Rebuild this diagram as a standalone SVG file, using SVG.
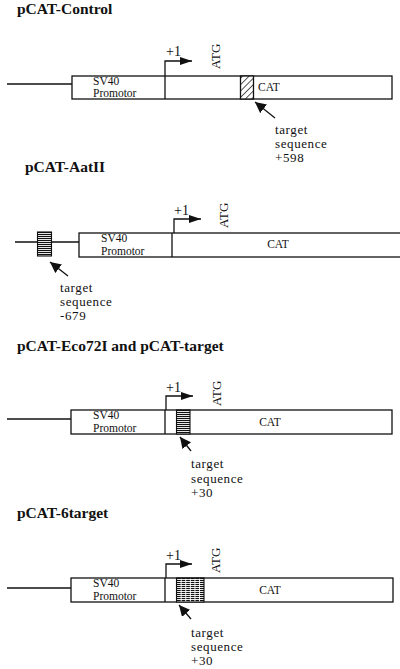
<svg xmlns="http://www.w3.org/2000/svg" width="400" height="669" viewBox="0 0 400 669">
<style>
.title{font-family:"Liberation Serif",serif;font-weight:bold;font-size:15.5px;fill:#111}
.lbl{font-family:"Liberation Serif",serif;font-size:11.5px;fill:#111}
.tgt{font-family:"Liberation Serif",serif;font-size:13px;letter-spacing:0.6px;fill:#111}
.p1{font-family:"Liberation Serif",serif;font-size:14px;fill:#111}
.atg{font-family:"Liberation Serif",serif;font-size:13px;fill:#111}
.ln{stroke:#111;stroke-width:1.3;fill:none}
.box{stroke:#111;stroke-width:1.3;fill:#fff}
</style>
<defs>
<pattern id="diag" patternUnits="userSpaceOnUse" width="4.5" height="4.5" patternTransform="rotate(45)">
<rect width="4.5" height="4.5" fill="#fff"/>
<line x1="0" y1="0" x2="0" y2="4.5" stroke="#111" stroke-width="1.4"/>
</pattern>
<pattern id="hstripe" patternUnits="userSpaceOnUse" width="4" height="2">
<rect width="4" height="2" fill="#fff"/>
<rect y="0" width="4" height="1.1" fill="#111"/>
</pattern>
<marker id="ah" viewBox="0 0 10 10" refX="10" refY="5" markerWidth="11" markerHeight="11" markerUnits="userSpaceOnUse" orient="auto">
<path d="M0,0 L10,5 L0,10 z" fill="#111"/>
</marker>
<marker id="tss" viewBox="0 0 12 8" refX="12" refY="4" markerWidth="12" markerHeight="8" markerUnits="userSpaceOnUse" orient="auto">
<path d="M0,0 L12,4 L0,8 z" fill="#111"/>
</marker>
</defs>

<g id="pCAT-Control">
<text class="title" x="17" y="14">pCAT-Control</text>
<line class="ln" x1="7" y1="84" x2="72" y2="84"/>
<rect class="box" x="72" y="76" width="320" height="23"/>
<line class="ln" x1="165" y1="76" x2="165" y2="99"/>
<rect x="240.5" y="76" width="13" height="23" fill="url(#diag)" stroke="#111" stroke-width="1.3"/>
<text class="lbl" x="93" y="84.5">SV40</text>
<text class="lbl" x="93" y="97">Promotor</text>
<text class="lbl" x="258" y="91">CAT</text>
<text class="p1" x="166" y="56">+1</text>
<text class="atg" transform="translate(220,69) rotate(-90)">ATG</text>
<text class="tgt" x="275" y="134">target</text>
<text class="tgt" x="275" y="148">sequence</text>
<text class="tgt" x="275" y="162">+598</text>
</g>

<g id="pCAT-AatII">
<text class="title" x="25" y="172">pCAT-AatII</text>
<line class="ln" x1="15" y1="242" x2="79" y2="242"/>
<rect x="37.5" y="232" width="14" height="24" fill="url(#hstripe)" stroke="#111" stroke-width="1.1"/>
<rect class="box" x="79" y="233" width="322" height="24"/>
<line class="ln" x1="172" y1="233" x2="172" y2="257"/>
<text class="lbl" x="101" y="241.5">SV40</text>
<text class="lbl" x="101" y="254.5">Promotor</text>
<text class="lbl" x="278" y="248" text-anchor="middle">CAT</text>
<text class="p1" x="174" y="215">+1</text>
<text class="atg" transform="translate(228,228) rotate(-90)">ATG</text>
<text class="tgt" x="60" y="292">target</text>
<text class="tgt" x="60" y="306">sequence</text>
<text class="tgt" x="60" y="320">-679</text>
</g>

<g id="pCAT-Eco72I">
<text class="title" x="17" y="351">pCAT-Eco72I and pCAT-target</text>
<line class="ln" x1="7" y1="419" x2="71" y2="419"/>
<rect class="box" x="71" y="410" width="321" height="24"/>
<line class="ln" x1="165" y1="410" x2="165" y2="434"/>
<rect x="176.5" y="410" width="13.5" height="24" fill="url(#hstripe)" stroke="#111" stroke-width="1.1"/>
<text class="lbl" x="93" y="418.5">SV40</text>
<text class="lbl" x="93" y="431.5">Promotor</text>
<text class="lbl" x="270" y="426" text-anchor="middle">CAT</text>
<text class="p1" x="166" y="392">+1</text>
<text class="atg" transform="translate(221,406) rotate(-90)">ATG</text>
<text class="tgt" x="191" y="468">target</text>
<text class="tgt" x="191" y="483">sequence</text>
<text class="tgt" x="191" y="497">+30</text>
</g>

<g id="pCAT-6target">
<text class="title" x="17" y="518">pCAT-6target</text>
<line class="ln" x1="7" y1="588" x2="71" y2="588"/>
<rect class="box" x="71" y="578" width="322" height="24"/>
<line class="ln" x1="165" y1="578" x2="165" y2="602"/>
<rect x="176.5" y="578" width="27.5" height="24" fill="url(#hstripe)" stroke="#111" stroke-width="1.1"/>
<g fill="#fff">
<rect x="180.7" y="578.7" width="0.9" height="22.6"/>
<rect x="185.3" y="578.7" width="0.9" height="22.6"/>
<rect x="189.9" y="578.7" width="0.9" height="22.6"/>
<rect x="194.5" y="578.7" width="0.9" height="22.6"/>
<rect x="199.1" y="578.7" width="0.9" height="22.6"/>
</g>
<text class="lbl" x="93" y="587">SV40</text>
<text class="lbl" x="93" y="600">Promotor</text>
<text class="lbl" x="270" y="594" text-anchor="middle">CAT</text>
<text class="p1" x="166" y="560">+1</text>
<text class="atg" transform="translate(220,573) rotate(-90)">ATG</text>
<text class="tgt" x="191" y="637">target</text>
<text class="tgt" x="191" y="651">sequence</text>
<text class="tgt" x="191" y="665">+30</text>
</g>

<g id="connectors">
<path class="ln" d="M165,76 V61 H192" marker-end="url(#tss)"/>
<path class="ln" d="M174,233 V219 H201" marker-end="url(#tss)"/>
<path class="ln" d="M166,410 V396 H193" marker-end="url(#tss)"/>
<path class="ln" d="M166,578 V564 H192" marker-end="url(#tss)"/>
<line class="ln" stroke-width="1.6" x1="275" y1="118" x2="255" y2="102" marker-end="url(#ah)"/>
<line class="ln" stroke-width="1.6" x1="68" y1="276" x2="50" y2="262" marker-end="url(#ah)"/>
<line class="ln" stroke-width="1.6" x1="191" y1="451" x2="180" y2="437" marker-end="url(#ah)"/>
<line class="ln" stroke-width="1.6" x1="191" y1="619" x2="179" y2="605" marker-end="url(#ah)"/>
</g>
</svg>
